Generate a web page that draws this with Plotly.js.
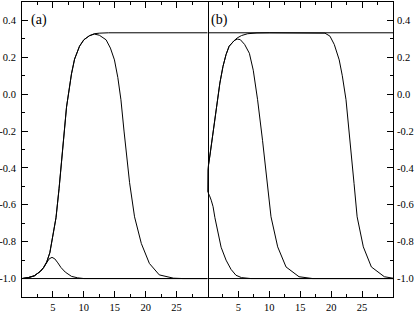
<!DOCTYPE html>
<html>
<head>
<meta charset="utf-8">
<script src="https://cdn.plot.ly/plotly-3.0.1.min.js"></script>
<style>html,body{margin:0;padding:0;background:#fff;}#chart{width:415px;height:312px;}</style>
</head>
<body>
<div id="chart"></div>
<script>
// ---------- Panel (a) ----------
var aFlatX = [0, 30];
var aFlatY = [-1, -1];

// shared rising part (a)
var aRiseX = [0, 1, 2, 3, 3.5, 4];
var aRiseY = [-1, -0.995, -0.985, -0.96, -0.94, -0.91];

// bump curve continuation (a)
var aBumpX = [4.4, 4.85, 5.3, 5.8, 6.3, 7, 7.5, 8, 9, 10, 30];
var aBumpY = [-0.893, -0.885, -0.893, -0.915, -0.94, -0.965, -0.978, -0.988, -0.996, -1, -1];

// main rising continuation (a)
var aMainX = [4.5, 5, 5.5, 6, 6.5, 7.2, 8, 8.5, 9.3, 10, 10.9];
var aMainY = [-0.86, -0.775, -0.67, -0.51, -0.33, -0.07, 0.11, 0.19, 0.26, 0.295, 0.317];

// plateau continuation (a)
var aPlatX = [11.7, 12.5, 14, 30];
var aPlatY = [0.328, 0.331, 0.333, 0.333];

// falling continuation (a)
var aFallX = [11.7, 12.5, 13.6, 14.3, 14.95, 15.5, 16, 16.5, 17, 17.4, 18.2, 19.3, 20.6, 22.2, 24.5, 26, 30];
var aFallY = [0.326, 0.32, 0.295, 0.25, 0.186, 0.09, -0.03, -0.2, -0.34, -0.48, -0.665, -0.81, -0.918, -0.98, -0.998, -1, -1];

// ---------- Panel (b) ----------
var bTopX = [0, 30];
var bTopY = [0.333, 0.333];
var bBotX = [0, 30];
var bBotY = [-1, -1];

// shared rising part (b)
var bRiseX = [0, 0.05, 0.4, 0.9, 1.6, 2, 2.5, 3, 3.5, 4, 4.3];
var bRiseY = [-0.53, -0.41, -0.33, -0.21, -0.03, 0.06, 0.15, 0.215, 0.26, 0.283, 0.29];

// inner curve continuation (b)
var bInnerX = [4.8, 5.3, 6, 6.77, 7.4, 8.1, 8.9, 9.73, 10.27, 11.35, 12.7, 14.8, 17, 30];
var bInnerY = [0.299, 0.296, 0.27, 0.222, 0.13, -0.03, -0.25, -0.484, -0.665, -0.828, -0.937, -0.99, -1, -1];

// outer curve continuation (b)
var bOuterX = [4.8, 5.5, 6.5, 8, 10, 18, 19, 19.8, 20.5, 21.3, 21.8, 22.4, 23.1, 23.7, 24.2, 25.2, 26.5, 28.6, 30];
var bOuterY = [0.305, 0.318, 0.328, 0.332, 0.333, 0.333, 0.331, 0.315, 0.27, 0.186, 0.1, -0.03, -0.3, -0.484, -0.665, -0.828, -0.937, -0.99, -0.998];

// descending curve (b)
var bDescX = [0, 0.3, 0.6, 0.9, 1.2, 1.67, 2.2, 3.0, 3.8, 4.6, 5.5, 7, 30];
var bDescY = [-0.53, -0.548, -0.575, -0.61, -0.67, -0.755, -0.83, -0.9, -0.95, -0.982, -0.995, -1, -1];

// ---------- ticks ----------
var xTickVals = [5, 10, 15, 20, 25];
var xMinorVals = [2.5, 7.5, 12.5, 17.5, 22.5, 27.5];
var yTickVals = [-1.0, -0.8, -0.6, -0.4, -0.2, 0.0, 0.2, 0.4];
var yTickText = ["-1.0", "-0.8", "-0.6", "-0.4", "-0.2", "0.0", "0.2", "0.4"];
var yMinorVals = [-0.9, -0.7, -0.5, -0.3, -0.1, 0.1, 0.3];

var lineStyle = {color: '#000', width: 1};
function tr(x, y, xa, ya) {
  return {x: x, y: y, xaxis: xa, yaxis: ya, type: 'scatter', mode: 'lines', line: lineStyle, hoverinfo: 'skip', showlegend: false};
}

var traces = [
  tr(aFlatX, aFlatY, 'x', 'y'),
  tr(aRiseX.concat(aBumpX), aRiseY.concat(aBumpY), 'x', 'y'),
  tr(aRiseX.concat(aMainX, aPlatX), aRiseY.concat(aMainY, aPlatY), 'x', 'y'),
  tr(aRiseX.concat(aMainX, aFallX), aRiseY.concat(aMainY, aFallY), 'x', 'y'),
  tr(bTopX, bTopY, 'x2', 'y2'),
  tr(bBotX, bBotY, 'x2', 'y2'),
  tr(bRiseX.concat(bInnerX), bRiseY.concat(bInnerY), 'x2', 'y2'),
  tr(bRiseX.concat(bOuterX), bRiseY.concat(bOuterY), 'x2', 'y2'),
  tr(bDescX, bDescY, 'x2', 'y2')
];

var serif = '"Liberation Serif", "DejaVu Serif", serif';
var tickFont = {family: serif, size: 10.5, color: '#000'};

function xAxis(domain, anchor) {
  return {
    domain: domain, anchor: anchor, range: [0, 30],
    tickmode: 'array', tickvals: xTickVals,
    ticks: 'inside', ticklen: 6, tickwidth: 1, tickcolor: '#000',
    minor: {tickmode: 'array', tickvals: xMinorVals, ticks: 'inside', ticklen: 3, tickwidth: 1, tickcolor: '#000'},
    showline: true, linecolor: '#000', linewidth: 1, mirror: 'ticks',
    showgrid: false, zeroline: false, tickfont: tickFont, fixedrange: true
  };
}
function yAxis(anchor, side, standoff, mirror) {
  return {
    anchor: anchor, side: side, range: [-1.1, 0.5],
    tickmode: 'array', tickvals: yTickVals, ticktext: yTickText,
    ticks: 'inside', ticklen: 6, tickwidth: 1, tickcolor: '#000',
    minor: {tickmode: 'array', tickvals: yMinorVals, ticks: 'inside', ticklen: 3, tickwidth: 1, tickcolor: '#000'},
    showline: true, linecolor: '#000', linewidth: 1, mirror: mirror,
    showgrid: false, zeroline: false, tickfont: tickFont, ticklabelstandoff: standoff, fixedrange: true
  };
}

var y2 = yAxis('x2', 'right', 1, false);
y2.matches = 'y';

var layout = {
  width: 415, height: 312,
  margin: {l: 22, r: 22, t: 2, b: 15, pad: 0},
  paper_bgcolor: '#fff', plot_bgcolor: '#fff',
  font: {family: serif, color: '#000'},
  showlegend: false,
  xaxis: xAxis([0, 0.5], 'y'),
  xaxis2: xAxis([0.5, 1], 'y2'),
  yaxis: yAxis('x', 'left', 3, true),
  yaxis2: y2,
  annotations: [
    {text: '(a)', xref: 'x', yref: 'y', x: 1.1, y: 0.4, xanchor: 'left', yanchor: 'middle', showarrow: false,
     font: {family: serif, size: 14, color: '#000'}},
    {text: '(b)', xref: 'x2', yref: 'y2', x: 0.3, y: 0.4, xanchor: 'left', yanchor: 'middle', showarrow: false,
     font: {family: serif, size: 14, color: '#000'}}
  ]
};

Plotly.newPlot('chart', traces, layout, {staticPlot: true, displayModeBar: false});
</script>
</body>
</html>
